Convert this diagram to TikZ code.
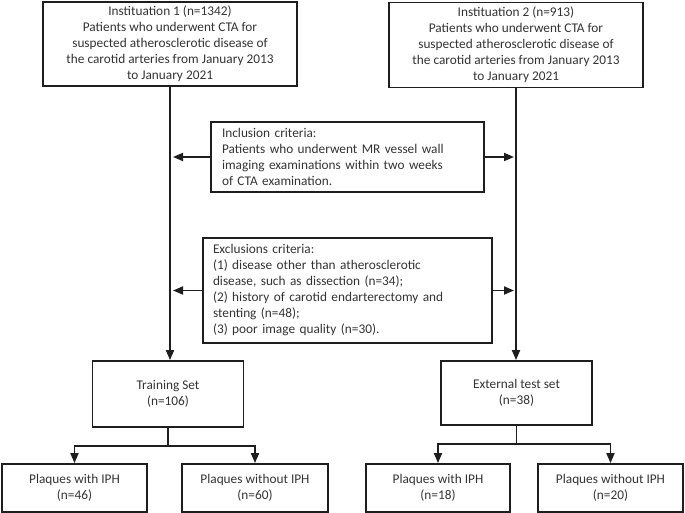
\documentclass[tikz,border=0pt]{standalone}
\usepackage{fontspec}
\setmainfont{Carlito}
\usetikzlibrary{arrows.meta}
\definecolor{linec}{HTML}{1E1E1E}
\definecolor{textc}{HTML}{333333}
\tikzset{
  box/.style={draw=linec, line width=1.8pt, text=textc, inner sep=0pt, align=center,
    font=\fontsize{13.3}{16}\selectfont},
  lbox/.style={box, align=left},
  conn/.style={draw=linec, line width=1.8pt, -{Triangle[length=10pt,width=8pt]}},
}
\begin{document}
\begin{tikzpicture}[x=1pt,y=-1pt]
\useasboundingbox (0,0) rectangle (685,513);
\node[box, minimum width=254pt, minimum height=84pt] (b1) at (170,44)
  {Instituation 1 (n=1342)\\Patients who underwent CTA for\\suspected atherosclerotic disease of\\the carotid arteries from January 2013\\to January 2021};
\node[box, minimum width=254pt, minimum height=85pt] (b2) at (516,45)
  {Instituation 2 (n=913)\\Patients who underwent CTA for\\suspected atherosclerotic disease of\\the carotid arteries from January 2013\\to January 2021};
\node[lbox, minimum width=273pt, minimum height=70pt, text width=251pt, inner xsep=11pt] (inc) at (347.5,157)
  {Inclusion criteria:\\Patients who underwent MR vessel wall\\imaging examinations within two weeks\\of CTA examination.};
\node[lbox, minimum width=289pt, minimum height=105pt, text width=269pt, inner xsep=10pt] (exc) at (347.5,290.5)
  {Exclusions criteria:\\(1) disease other than atherosclerotic\\disease, such as dissection (n=34);\\(2) history of carotid endarterectomy and\\stenting (n=48);\\(3) poor image quality (n=30).};
\node[box, minimum width=151pt, minimum height=66pt] (tr) at (168,394) {Training Set\\(n=106)};
\node[box, minimum width=151pt, minimum height=64pt] (ex) at (516.5,393) {External test set\\(n=38)};
\node[box, minimum width=145pt, minimum height=48pt] (p1) at (74.5,488) {Plaques with IPH\\(n=46)};
\node[box, minimum width=146pt, minimum height=48pt] (p2) at (255,488) {Plaques without IPH\\(n=60)};
\node[box, minimum width=144pt, minimum height=48pt] (p3) at (438,488) {Plaques with IPH\\(n=18)};
\node[box, minimum width=145pt, minimum height=48pt] (p4) at (610.5,488) {Plaques without IPH\\(n=20)};
% main verticals
\draw[conn] (b1.south) -- (b1.south |- tr.north);
\draw[conn] (b2.south) -- (b2.south |- ex.north);
% side arrows
\draw[conn, shorten >=3pt] (inc.west) -- (inc.west -| b1.south);
\draw[conn, shorten >=2pt] (inc.east) -- (inc.east -| b2.south);
\draw[conn, shorten >=3pt] (exc.west) -- (exc.west -| b1.south);
\draw[conn, shorten >=2pt] (exc.east) -- (exc.east -| b2.south);
% branches
\draw[conn] (tr.south) -- ++(0,18) -| (p1.north);
\draw[conn] (tr.south) -- ++(0,18) -| (p2.north);
\draw[conn] (ex.south) -- ++(0,18) -| (p3.north);
\draw[conn] (ex.south) -- ++(0,18) -| (p4.north);
\end{tikzpicture}
\end{document}
